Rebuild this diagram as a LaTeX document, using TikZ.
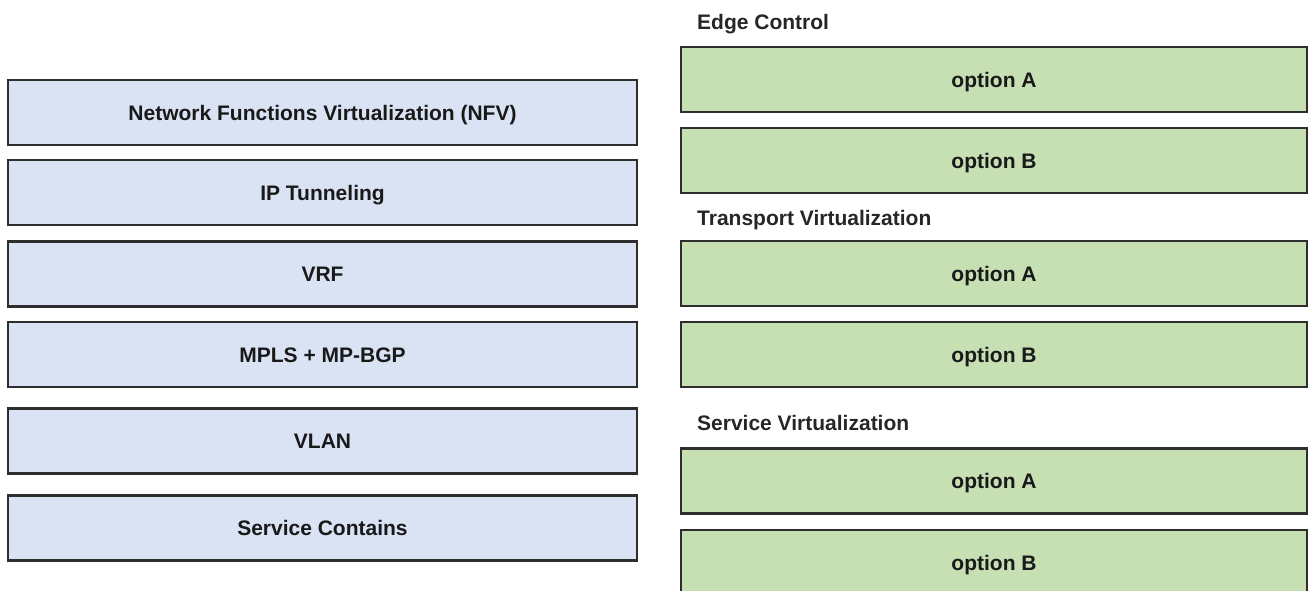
\documentclass[tikz,border=0pt]{standalone}
\usepackage{fontspec}
\setmainfont{Liberation Sans}
\usepackage{tikz}

\definecolor{layerblue}{HTML}{DAE3F3}
\definecolor{optgreen}{HTML}{C6E0B4}
\definecolor{edgegray}{HTML}{2E2E2E}

\begin{document}
\begin{tikzpicture}[x=1pt,y=-1pt,
		layer/.style={rectangle,draw=edgegray,line width=2.4pt,fill=layerblue,minimum width=629pt,minimum height=65pt,text height=15pt,text depth=0pt,font=\fontsize{21}{24}\selectfont\bfseries,text=black!90},
		option/.style={layer,fill=optgreen,minimum width=626pt},
		heading/.style={anchor=base west,inner sep=0pt,font=\fontsize{21}{24}\selectfont\bfseries,text=black!85}]
		\useasboundingbox (0,0) rectangle (1312,590);
		% left column
		\node[layer] (nfv) at (322.5,112.5) {Network Functions Virtualization (NFV)};
		\node[layer] (iptun) at (322.5,192.5) {IP Tunneling};
		\node[layer] (vrf) at (322.5,274) {VRF};
		\node[layer] (mpls) at (322.5,354.5) {MPLS + MP-BGP};
		\node[layer] (vlan) at (322.5,441) {VLAN};
		\node[layer] (svc) at (322.5,528) {Service Contains};
		% right column
		\node[heading] (ec) at (697,29) {Edge Control};
		\node[option] (ecA) at (994,79.5) {option A};
		\node[option] (ecB) at (994,160.5) {option B};
		\node[heading] (tv) at (697,225) {Transport Virtualization};
		\node[option] (tvA) at (994,273.5) {option A};
		\node[option] (tvB) at (994,354.5) {option B};
		\node[heading] (sv) at (697,430) {Service Virtualization};
		\node[option] (svA) at (994,481) {option A};
		\node[option] (svB) at (994,562.5) {option B};
	\end{tikzpicture}
\end{document}
